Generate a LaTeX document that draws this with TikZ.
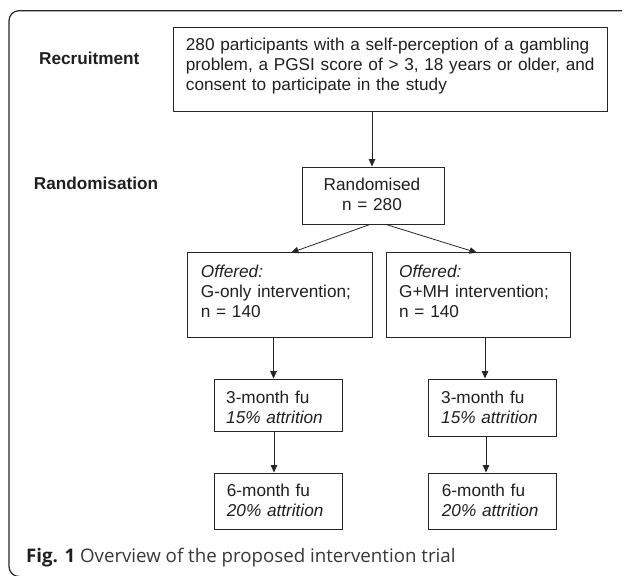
\documentclass[tikz,border=0pt]{standalone}
\usepackage{fontspec}
\setmainfont{Liberation Sans}
\newfontfamily\capfont{Open Sans}
\usetikzlibrary{arrows.meta}
\begin{document}
\begin{tikzpicture}[x=1pt,y=-1pt,
  box/.style={draw=black!85,line width=0.9pt},
  txt/.style={font=\fontsize{17.2}{20}\selectfont,text width=230pt,align=left,inner sep=0pt,anchor=base west,text=black!88},
  wtxt/.style={txt,text width=430pt},
  ctxt/.style={font=\fontsize{17.2}{20}\selectfont,text width=130pt,align=center,inner sep=0pt,anchor=base,text=black!88},
  lbl/.style={font=\bfseries\fontsize{17.2}{20}\selectfont,inner sep=0pt,anchor=base,text=black!88},
  arr/.style={draw=black!85,line width=0.8pt,-{Triangle[length=7.5pt,width=6.5pt]}}]
\useasboundingbox (0,0) rectangle (625,576);
% frame
\draw[black!85,line width=1.2pt,rounded corners=10pt] (622,10.7) -- (9,10.7) -- (9,576.5) -- (20,576.5);
% labels
\node[lbl] (rec) at (89.3,64) {Recruitment};
\node[lbl] (ran) at (96,189.5) {Randomisation};
% boxes
\draw[box] (173.7,27.3) rectangle (607,111.7);
\coordinate (topS) at (372,111.7);
\node[wtxt] (toptxt) at (185.7,50) {280 participants with a self-perception of a gambling\\problem, a PGSI score of > 3, 18 years or older, and\\consent to participate in the study};
\node[box,minimum width=142pt,minimum height=57pt,inner sep=0pt] (rnd) at (373,195.5) {};
\node[ctxt] (rndtxt) at (372,190) {Randomised\\n = 280};
\node[box,minimum width=184.3pt,minimum height=84.3pt,inner sep=0pt] (gl) at (279.85,294.85) {};
\node[txt] (gltxt) at (200.7,277) {\textit{Offered:}\\G-only intervention;\\n = 140};
\node[box,minimum width=184pt,minimum height=84.3pt,inner sep=0pt] (gr) at (478,294.85) {};
\node[txt] (grtxt) at (399,277) {\textit{Offered:}\\G+MH intervention;\\n = 140};
\node[box,minimum width=128pt,minimum height=52pt,inner sep=0pt] (l3) at (278,405) {};
\node[txt] (l3txt) at (226,403) {3-month fu\\\textit{15\% attrition}};
\node[box,minimum width=128pt,minimum height=56pt,inner sep=0pt] (l6) at (278,501) {};
\node[txt] (l6txt) at (226.7,496) {6-month fu\\\textit{20\% attrition}};
\node[box,minimum width=127.5pt,minimum height=57pt,inner sep=0pt] (r3) at (492.5,407.5) {};
\node[txt] (r3txt) at (441,403) {3-month fu\\\textit{15\% attrition}};
\node[box,minimum width=127.5pt,minimum height=56pt,inner sep=0pt] (r6) at (492.5,501) {};
\node[txt] (r6txt) at (441.7,496) {6-month fu\\\textit{20\% attrition}};
% arrows
\draw[arr] (topS) -- (rnd.north -| topS);
\draw[arr] ([xshift=-3pt]rnd.south) -- (291,252.7);
\draw[arr] ([xshift=13pt]rnd.south) -- (477,252.7);
\draw[arr] (gl.south -| 273.5,0) -- (l3.north -| 273.5,0);
\draw[arr] (l3.south -| 274,0) -- (l6.north -| 274,0);
\draw[arr] (gr.south -| 485,0) -- (r3.north -| 485,0);
\draw[arr] (r3.south -| 486,0) -- (r6.north -| 486,0);
% caption
\node[anchor=base west,inner sep=0pt,font=\capfont\fontsize{18.7}{22}\selectfont,text=black!78] (cap) at (26,562.5) {\textbf{\color{black!88}Fig. 1} Overview of the proposed intervention trial};
\end{tikzpicture}
\end{document}
